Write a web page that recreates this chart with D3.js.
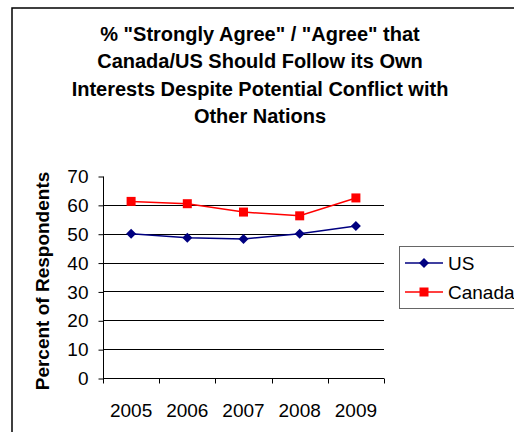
<!DOCTYPE html>
<html><head><meta charset="utf-8">
<script src="https://cdn.jsdelivr.net/npm/d3@7"></script>
<style>body{margin:0;background:#fff}svg{display:block}text{font-family:"Liberation Sans",Arial,sans-serif}</style>
</head><body><svg id="c" width="514" height="432"></svg>
<script>
const years = ["2005","2006","2007","2008","2009"];
const usValues = [50.0, 48.6, 48.2, 50.0, 52.7];
const canadaValues = [61.2, 60.4, 57.5, 56.2, 62.4];
const yTicks = [0,10,20,30,40,50,60,70];
const titleLines = ['% "Strongly Agree" / "Agree" that','Canada/US Should Follow its Own','Interests Despite Potential Conflict with','Other Nations'];
const seriesNames = ["US","Canada"];
const seriesColors = ["#000080","#FF0000"];

const svg = d3.select("#c");
// outer border
svg.append("rect").attr("x",12).attr("y",8).attr("width",600).attr("height",600)
  .attr("fill","none").attr("stroke","#000").attr("stroke-width",1.5);

// title
svg.append("g").selectAll("text").data(titleLines).join("text")
  .attr("x",260).attr("y",(d,i)=>41+i*27.3).attr("text-anchor","middle")
  .attr("font-size",20).attr("font-weight","bold").text(d=>d);

const x = d3.scaleBand().domain(years).range([103,384]);
const y = d3.scaleLinear().domain([0,70]).range([378,176]);

// gridlines
svg.append("g").selectAll("line").data(yTicks.filter(t=>t>0&&t<70)).join("line")
  .attr("x1",103).attr("x2",384).attr("y1",d=>Math.round(y(d))+0.5).attr("y2",d=>Math.round(y(d))+0.5)
  .attr("stroke","#000").attr("stroke-width",1);

// y axis
const ya = svg.append("g").attr("transform","translate(103.5,0.5)")
  .call(d3.axisLeft(y).tickValues(yTicks).tickSize(5).tickPadding(10).tickFormat(d3.format("d")));
ya.select(".domain").attr("stroke","#000").attr("d","M0,"+Math.round(y(70))+"V"+Math.round(y(0)));
ya.selectAll("text").attr("font-size",19).attr("fill","#000").attr("font-family","Liberation Sans, Arial, sans-serif");
ya.selectAll(".tick line").attr("stroke","#000");

// x axis
const xa = svg.append("g").attr("transform","translate(0,"+(Math.round(y(0))+0.5)+")");
xa.append("line").attr("x1",103).attr("x2",384).attr("stroke","#000");
const bounds = years.map(d=>x(d)).concat([x.range()[1]]);
xa.selectAll("line.t").data(bounds).join("line").attr("class","t")
  .attr("x1",d=>Math.round(d)+0.5).attr("x2",d=>Math.round(d)+0.5).attr("y1",0).attr("y2",5).attr("stroke","#000");
xa.selectAll("text").data(years).join("text")
  .attr("x",d=>x(d)+x.bandwidth()/2).attr("y",38).attr("text-anchor","middle")
  .attr("font-size",19).text(d=>d);

// y title
svg.append("text").attr("transform","translate(49,281) rotate(-90)").attr("text-anchor","middle")
  .attr("font-size",19).attr("font-weight","bold").text("Percent of Respondents");

const cx = d=>x(d)+x.bandwidth()/2;
const line = d3.line().x((v,i)=>cx(years[i])).y(v=>y(v));
const diamond = (g,px,py,col)=>g.append("path").attr("d",`M${px},${py-5}L${px+5},${py}L${px},${py+5}L${px-5},${py}Z`).attr("fill",col);
const square = (g,px,py,col)=>g.append("rect").attr("x",px-4.5).attr("y",py-4.5).attr("width",9).attr("height",9).attr("fill",col);

const gUS = svg.append("g");
gUS.append("path").datum(usValues).attr("d",line).attr("fill","none").attr("stroke",seriesColors[0]).attr("stroke-width",1.5);
usValues.forEach((v,i)=>diamond(gUS,cx(years[i]),y(v),seriesColors[0]));
const gCA = svg.append("g");
gCA.append("path").datum(canadaValues).attr("d",line).attr("fill","none").attr("stroke",seriesColors[1]).attr("stroke-width",1.5);
canadaValues.forEach((v,i)=>square(gCA,cx(years[i]),y(v),seriesColors[1]));

// legend
const lg = svg.append("g");
lg.append("rect").attr("x",399.5).attr("y",246.5).attr("width",200).attr("height",62).attr("fill","#fff").attr("stroke","#666").attr("stroke-width",1);
seriesNames.forEach((n,i)=>{
  const ly = 263 + i*29;
  lg.append("line").attr("x1",405).attr("x2",443).attr("y1",ly).attr("y2",ly).attr("stroke",seriesColors[i]).attr("stroke-width",1.5);
  if(i===0) diamond(lg,424,ly,seriesColors[i]); else square(lg,424,ly,seriesColors[i]);
  lg.append("text").attr("x",448).attr("y",ly+7).attr("font-size",19).text(n);
});
</script></body></html>
